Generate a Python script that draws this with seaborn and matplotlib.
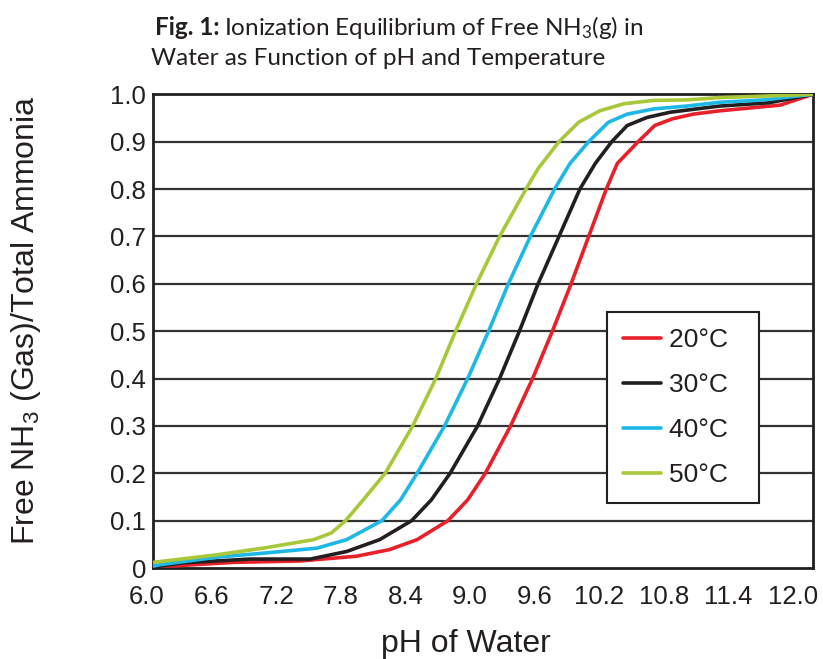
import pandas as pd
import matplotlib.pyplot as plt
import matplotlib.transforms as mtransforms
import seaborn as sns

# values (pH, fraction of free NH3)
ph_20 = [6.0, 6.22, 6.73, 7.34, 7.85, 8.15, 8.40, 8.68, 8.86, 9.02, 9.25, 9.45, 9.63, 9.80,
         9.96, 10.12, 10.22, 10.41, 10.56, 10.72, 10.91, 11.15, 11.7, 12.0]
val_20 = [0.003, 0.005, 0.012, 0.015, 0.025, 0.039, 0.06, 0.1, 0.144, 0.2, 0.3, 0.4, 0.5, 0.6,
          0.7, 0.8, 0.854, 0.9, 0.934, 0.948, 0.958, 0.965, 0.977, 1.0]

ph_30 = [6.0, 6.27, 6.88, 7.43, 7.76, 8.06, 8.35, 8.53, 8.70, 8.95, 9.15, 9.33, 9.50, 9.69,
         9.88, 10.02, 10.17, 10.31, 10.49, 10.70, 10.94, 11.15, 11.6, 12.0]
val_30 = [0.002, 0.011, 0.019, 0.019, 0.035, 0.06, 0.1, 0.144, 0.2, 0.3, 0.4, 0.5, 0.6, 0.7,
          0.8, 0.854, 0.9, 0.934, 0.951, 0.962, 0.969, 0.975, 0.982, 1.0]

ph_40 = [6.0, 6.06, 6.58, 7.03, 7.49, 7.76, 8.08, 8.25, 8.40, 8.65, 8.86, 9.05, 9.23, 9.43,
         9.65, 9.79, 9.96, 10.14, 10.31, 10.55, 10.85, 11.15, 11.55, 12.0]
val_40 = [0.004, 0.007, 0.023, 0.032, 0.042, 0.06, 0.1, 0.144, 0.2, 0.3, 0.4, 0.5, 0.6, 0.7,
          0.8, 0.854, 0.9, 0.941, 0.958, 0.969, 0.975, 0.983, 0.988, 1.0]

ph_50 = [6.0, 6.58, 7.0, 7.46, 7.62, 7.75, 7.91, 8.11, 8.36, 8.57, 8.75, 8.94, 9.15, 9.39,
         9.50, 9.69, 9.87, 10.06, 10.28, 10.55, 10.85, 11.15, 11.55, 12.0]
val_50 = [0.012, 0.028, 0.042, 0.06, 0.074, 0.1, 0.144, 0.2, 0.3, 0.4, 0.5, 0.6, 0.7, 0.8,
          0.843, 0.9, 0.941, 0.965, 0.980, 0.987, 0.988, 0.993, 0.996, 1.0]

temps = ["20°C", "30°C", "40°C", "50°C"]
colors = ["#E8202A", "#231F20", "#1EB8E6", "#A8C83A"]
x_ticks = [6.0, 6.6, 7.2, 7.8, 8.4, 9.0, 9.6, 10.2, 10.8, 11.4, 12.0]
y_ticks = [0, 0.1, 0.2, 0.3, 0.4, 0.5, 0.6, 0.7, 0.8, 0.9, 1.0]
y_labels = ["0", "0.1", "0.2", "0.3", "0.4", "0.5", "0.6", "0.7", "0.8", "0.9", "1.0"]

# one long table for seaborn
frames = []
for t, ph, v in zip(temps, [ph_20, ph_30, ph_40, ph_50], [val_20, val_30, val_40, val_50]):
    frames.append(pd.DataFrame({"pH": ph, "frac": v, "Temp": t}))
df = pd.concat(frames, ignore_index=True)

sns.set_style("white")
plt.rcParams["font.family"] = ["Liberation Sans", "DejaVu Sans"]
plt.rcParams["mathtext.default"] = "regular"

fig = plt.figure(figsize=(8.23, 6.59), dpi=100)
ax = fig.add_axes([0.186, 0.138, 0.802, 0.719])

# horizontal grid lines
for yv in y_ticks[1:-1]:
    ax.axhline(yv, color="#333333", lw=1.6, zorder=1)

sns.lineplot(data=df, x="pH", y="frac", hue="Temp", palette=colors, hue_order=temps,
             estimator=None, sort=True, lw=2.6, ax=ax, zorder=3)
for ln in ax.get_lines():
    ln.set_solid_joinstyle("round")
    ln.set_solid_capstyle("round")

ax.set_xlim(6.0, 12.0)
ax.set_ylim(0, 1.0)
ax.set_xticks(x_ticks)
ax.set_xticklabels([f"{v:.1f}" for v in x_ticks], fontsize=18.5, color="#231F20")
ax.set_yticks(y_ticks)
ax.set_yticklabels(y_labels, fontsize=18.5, color="#231F20")
ax.tick_params(axis="x", length=0, pad=12)
ax.tick_params(axis="y", length=0, pad=5)
# x labels sit a little left of their positions in the original
for i, lab in enumerate(ax.get_xticklabels()):
    dx = -(6 + 1.4 * i) / 100
    lab.set_transform(lab.get_transform() + mtransforms.ScaledTranslation(dx, 0, fig.dpi_scale_trans))
for s in ax.spines.values():
    s.set_color("#231F20")
    s.set_linewidth(2)

ax.set_xlabel("pH of Water", fontsize=23, color="#231F20")
ax.xaxis.set_label_coords(0.474, -0.128)
ax.set_ylabel("Free NH$_3$ (Gas)/Total Ammonia", fontsize=23, color="#231F20")
ax.yaxis.set_label_coords(-0.167, 0.523)

handles, labels = ax.get_legend_handles_labels()
labels = [l + "  " for l in labels]
leg = ax.legend(handles, labels, loc="upper left", bbox_to_anchor=(0.688, 0.54),
                borderaxespad=0, fontsize=19, frameon=True, fancybox=False,
                edgecolor="#231F20", handlelength=1.45, handletextpad=0.3,
                labelspacing=0.8, borderpad=0.6, framealpha=1)
leg.get_frame().set_linewidth(1.5)
for t in leg.get_texts():
    t.set_color("#231F20")

# two-line title, "Fig. 1:" in bold
t1 = fig.text(155 / 823, 1 - 35 / 659, "Fig. 1:", fontsize=17.5, family="Lato",
              fontweight="bold", color="#231F20", va="baseline")
fig.canvas.draw()
bb = t1.get_window_extent()
fig.text((bb.x1 + 5) / fig.bbox.width, 1 - 35 / 659,
         "Ionization Equilibrium of Free NH$_3$(g) in", fontsize=17.5, family="Lato",
         color="#231F20", va="baseline")
fig.text(151 / 823, 1 - 65 / 659, "Water as Function of pH and Temperature",
         fontsize=17.5, family="Lato", color="#231F20", va="baseline")

plt.savefig("out.png", dpi=100)
